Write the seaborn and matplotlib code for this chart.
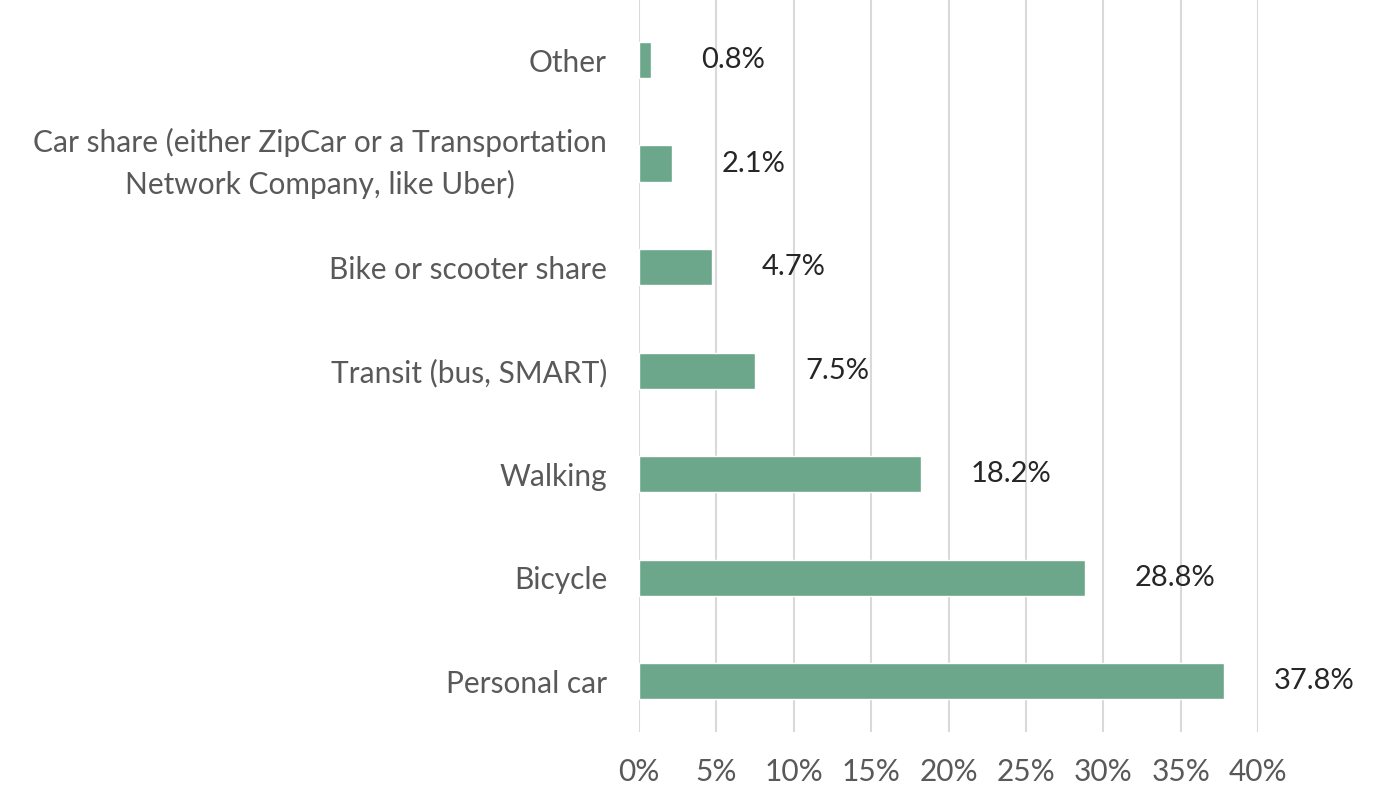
import matplotlib
matplotlib.use("Agg")
import matplotlib.pyplot as plt
import seaborn as sns
import pandas as pd
from matplotlib.ticker import FuncFormatter

sns.set_theme(style="white")
plt.rcParams['font.family'] = ['Lato', 'DejaVu Sans']

# datos
modes = ["Other",
         "Car share (either ZipCar or a Transportation\nNetwork Company, like Uber)",
         "Bike or scooter share",
         "Transit (bus, SMART)",
         "Walking",
         "Bicycle",
         "Personal car"]
shares = [0.8, 2.1, 4.7, 7.5, 18.2, 28.8, 37.8]
labels = ["0.8%", "2.1%", "4.7%", "7.5%", "18.2%", "28.8%", "37.8%"]

df = pd.DataFrame({"mode": modes, "share": shares})

fig = plt.figure(figsize=(13.91, 7.89), dpi=100)
ax = fig.add_axes([0.4594, 0.0722, 0.4450, 0.9278])

sns.barplot(data=df, y="mode", x="share", color="#6CA68B", saturation=1,
            width=0.35, orient="h", ax=ax)

for i, (v, lab) in enumerate(zip(shares, labels)):
    ax.annotate(lab, xy=(v, i), xytext=(50, 0), textcoords="offset pixels",
                ha="left", va="center", fontsize=21, color="#262626")

ax.set_xlim(0, 40)
ax.set_ylim(6.49, -0.58)
ax.set_xticks(range(0, 41, 5))
ax.xaxis.set_major_formatter(FuncFormatter(lambda x, p: f"{int(x)}%"))
ax.grid(True, axis="x", color="#d9d9d9", linewidth=1.5)
ax.grid(False, axis="y")
ax.set_axisbelow(True)
for s in ax.spines.values():
    s.set_visible(False)
ax.tick_params(axis="both", length=0, labelsize=21.5, labelcolor="#595959")
ax.tick_params(axis="x", pad=19)
ax.tick_params(axis="y", pad=23)
for t in ax.get_yticklabels():
    t.set_horizontalalignment("right")
    t.set_multialignment("center")
    if "\n" in t.get_text():
        t.set_linespacing(1.55)
        t.set_verticalalignment("center")
ax.set_xlabel("")
ax.set_ylabel("")

fig.savefig("out.png", dpi=100)
